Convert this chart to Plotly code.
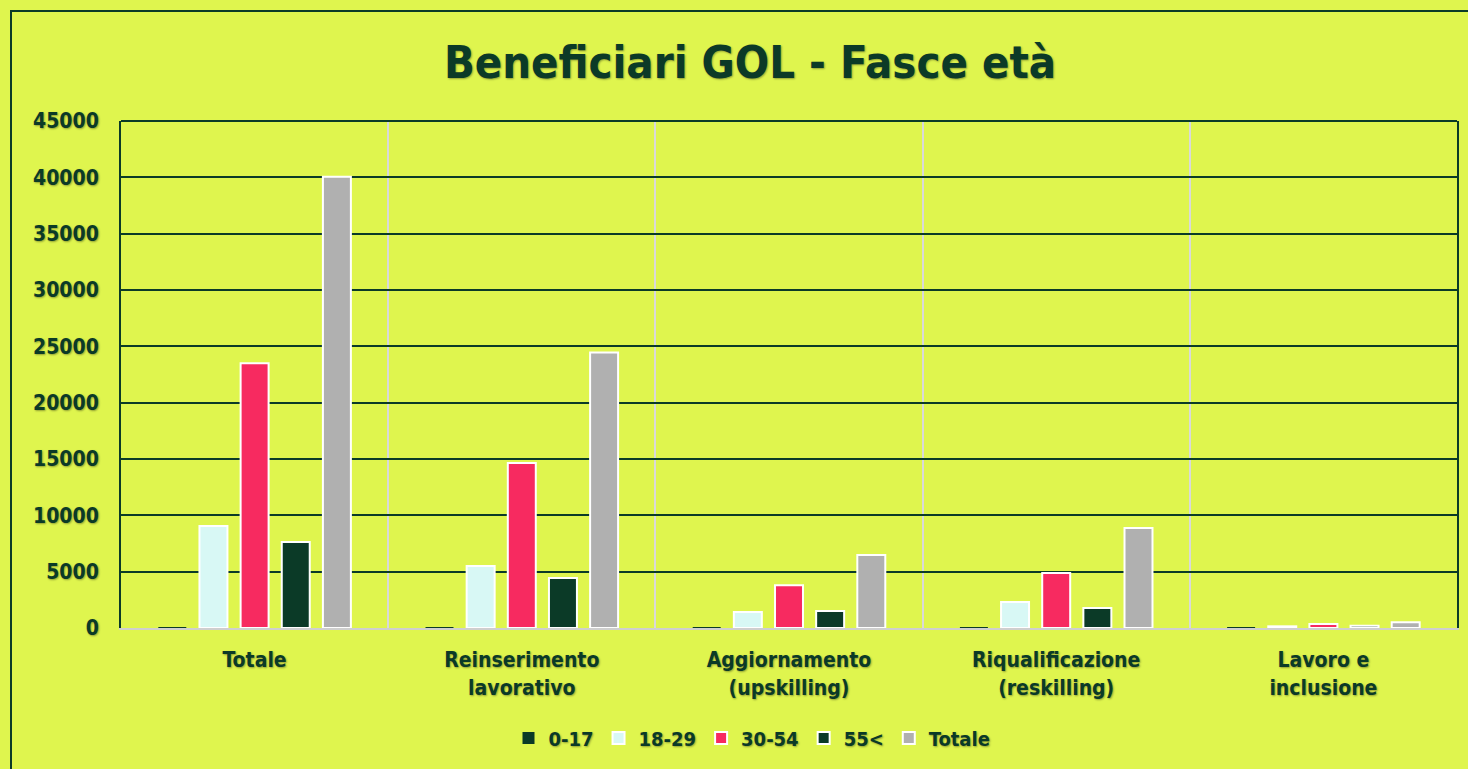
import plotly.graph_objects as go

categories = ["Totale", "Reinserimento<br>lavorativo", "Aggiornamento<br>(upskilling)",
              "Riqualificazione<br>(reskilling)", "Lavoro e<br>inclusione"]
series_names = ["0-17", "18-29", "30-54", "55<", "Totale"]
v_0_17 = [80, 60, 20, 20, 5]
v_18_29 = [9050, 5500, 1420, 2300, 150]
v_30_54 = [23500, 14650, 3800, 4880, 350]
v_55 = [7630, 4440, 1510, 1775, 200]
v_tot = [40050, 24450, 6480, 8880, 500]
y_ticks = [0, 5000, 10000, 15000, 20000, 25000, 30000, 35000, 40000, 45000]

colors = ["#0b3a27", "#d8f8f5", "#f72a60", "#0b3a27", "#b0b0b0"]
BG = "#dff54e"
DARK = "#0b3a27"
FONT = "DejaVu Sans Condensed, DejaVu Sans, sans-serif"
SHADOW = "1px 1px 2px rgba(0,0,0,0.35)"

fig = go.Figure()
for name, vals, col in zip(series_names, [v_0_17, v_18_29, v_30_54, v_55, v_tot], colors):
    fig.add_trace(go.Bar(
        x=categories, y=vals, name=name,
        marker=dict(color=col, line=dict(color="white", width=2 if name != "0-17" else 0)),
    ))

W, H = 1468, 769
L, R, T, B = 121, 11, 121, 141
pw, ph = W - L - R, H - T - B

fig.update_layout(
    width=W, height=H,
    margin=dict(l=L, r=R, t=T, b=B, autoexpand=False),
    paper_bgcolor=BG, plot_bgcolor=BG,
    barmode="group", bargap=0.23, bargroupgap=0.32,
    title=dict(text="<b>Beneficiari GOL - Fasce età</b>", x=(750 - L) / pw, xref="paper",
               xanchor="center", y=1 - 62 / H, yanchor="middle",
               font=dict(family=FONT, size=45, color=DARK, shadow=SHADOW)),
    font=dict(family=FONT, color=DARK, size=20),
    legend=dict(orientation="h", x=(752 - L) / pw, xanchor="center",
                y=(628 - 738) / ph, yanchor="middle",
                font=dict(family=FONT, size=20, color=DARK, weight="bold", shadow=SHADOW),
                bgcolor="rgba(0,0,0,0)", itemwidth=30, tracegroupgap=0),
    showlegend=True,
    shapes=[
        dict(type="rect", xref="paper", yref="paper",
             x0=(11 - L) / pw, x1=(1500 - L) / pw,
             y0=(628 - 800) / ph, y1=1 + (T - 11) / ph,
             line=dict(color=DARK, width=2), fillcolor="rgba(0,0,0,0)", layer="below"),
        dict(type="line", xref="paper", yref="paper", x0=0, x1=1, y0=1, y1=1,
             line=dict(color=DARK, width=2), layer="above"),
    ],
)

fig.update_yaxes(range=[0, 45000], tickvals=y_ticks, ticktext=[str(v) for v in y_ticks],
                 showgrid=True, gridcolor=DARK, gridwidth=2,
                 showline=True, linecolor=DARK, linewidth=2, mirror=True,
                 zeroline=False, ticks="", ticklabelstandoff=16,
                 tickfont=dict(family=FONT, size=21, color=DARK, weight="bold", shadow=SHADOW))
fig.update_xaxes(showgrid=True, gridcolor="#d9d9d9", gridwidth=2, tickson="boundaries",
                 showline=True, linecolor="#cfcfcf", linewidth=2, ticks="",
                 ticklabelstandoff=12,
                 tickfont=dict(family=FONT, size=21, color=DARK, weight="bold", shadow=SHADOW))

fig.write_html("out.html", config={"displayModeBar": False},
               post_script="document.body.style.margin='0';")
